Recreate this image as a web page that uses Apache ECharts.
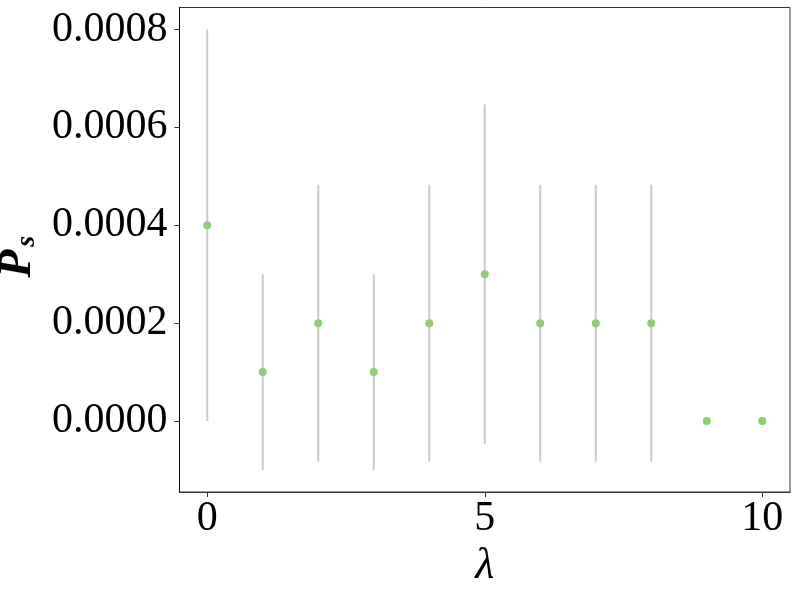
<!DOCTYPE html>
<html>
<head>
<meta charset="utf-8">
<script src="https://cdn.jsdelivr.net/npm/echarts@6/dist/echarts.min.js"></script>
<style>
  html, body { margin: 0; padding: 0; background: #fff; }
  #chart { width: 798px; height: 592px; }
</style>
</head>
<body>
<div id="chart"></div>
<script>
// lambda values and estimated P_s with error bar limits
const lambdas = [0, 1, 2, 3, 4, 5, 6, 7, 8, 9, 10]
const psValues = [0.0004, 0.0001, 0.0002, 0.0001, 0.0002, 0.0003, 0.0002, 0.0002, 0.0002, 0, 0]
const errLow = [0, -0.0001, -0.000083, -0.0001, -0.000083, -0.000047, -0.000083, -0.000083, -0.000083, null, null]
const errHigh = [0.0008, 0.0003, 0.000483, 0.0003, 0.000483, 0.000647, 0.000483, 0.000483, 0.000483, null, null]
const xTicks = [0, 5, 10]
const yTicks = [0, 0.0002, 0.0004, 0.0006, 0.0008]

const serif = '"Liberation Serif", "DejaVu Serif", serif'
const chart = echarts.init(document.getElementById('chart'))

const errData = lambdas
  .map((x, i) => [x, errLow[i], errHigh[i]])
  .filter(d => d[1] !== null)

const option = {
  backgroundColor: '#fff',
  animation: false,
  grid: {
    left: 179.5,
    right: 8,
    top: 7.5,
    bottom: 100,
    containLabel: false,
    outerBoundsMode: 'none',
    show: true,
    borderColor: '#333',
    borderWidth: 1
  },
  xAxis: {
    type: 'value',
    min: -0.5,
    max: 10.5,
    name: 'λ',
    nameLocation: 'middle',
    nameGap: 34,
    nameTextStyle: { fontFamily: serif, fontStyle: 'italic', fontSize: 44, color: '#000' },
    axisLine: { show: true, onZero: false, lineStyle: { color: '#333', width: 1 } },
    axisTick: { show: true, length: 5, lineStyle: { color: '#333' }, customValues: xTicks },
    axisLabel: {
      customValues: xTicks,
      fontFamily: serif,
      fontSize: 42,
      color: '#000',
      margin: 6
    },
    splitLine: { show: false }
  },
  yAxis: {
    type: 'value',
    min: -0.000145,
    max: 0.000845,
    name: '{p|P}{s|s}',
    nameLocation: 'middle',
    nameRotate: 90,
    nameGap: 132,
    nameTextStyle: {
      padding: [0, 14, 0, 0],
      rich: {
        p: { fontFamily: serif, fontStyle: 'italic', fontWeight: 'bold', fontSize: 46, color: '#000', verticalAlign: 'bottom' },
        s: { fontFamily: serif, fontStyle: 'italic', fontWeight: 'bold', fontSize: 28, color: '#000', verticalAlign: 'bottom', padding: [0, 0, 0, 3] }
      }
    },
    axisLine: { show: true, onZero: false, lineStyle: { color: '#000', width: 1 } },
    axisTick: { show: true, length: 5, lineStyle: { color: '#333' }, customValues: yTicks },
    axisLabel: {
      customValues: yTicks,
      fontFamily: serif,
      fontSize: 42,
      color: '#000',
      margin: 12,
      formatter: v => v.toFixed(4)
    },
    splitLine: { show: false }
  },
  series: [
    {
      type: 'scatter',
      name: 'P_s',
      data: lambdas.map((x, i) => [x, psValues[i]]),
      symbol: 'circle',
      symbolSize: 8,
      itemStyle: { color: '#6cc644' },
      z: 2
    },
    {
      type: 'custom',
      name: 'error',
      data: errData,
      z: 3,
      renderItem: (params, api) => {
        const lo = api.coord([api.value(0), api.value(1)])
        const hi = api.coord([api.value(0), api.value(2)])
        return {
          type: 'line',
          shape: { x1: lo[0], y1: lo[1], x2: hi[0], y2: hi[1] },
          style: { stroke: 'rgba(180,180,180,0.7)', lineWidth: 2 }
        }
      }
    }
  ]
}
chart.setOption(option)
</script>
</body>
</html>
